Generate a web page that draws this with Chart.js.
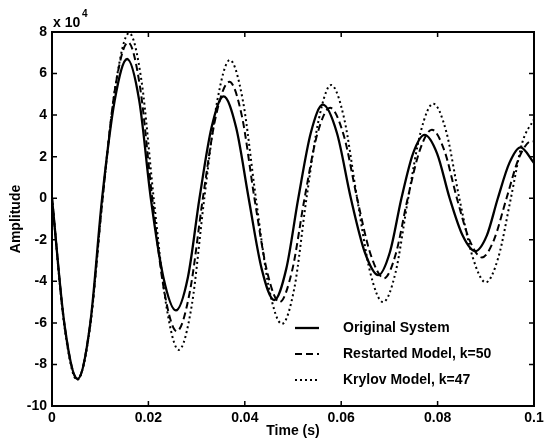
<!DOCTYPE html>
<html>
<head>
<meta charset="utf-8">
<script src="https://cdn.jsdelivr.net/npm/chart.js@4.4.1/dist/chart.umd.min.js"></script>
<style>
  html, body { margin: 0; padding: 0; background: #fff; }
  #wrap { width: 548px; height: 443px; position: relative; }
</style>
</head>
<body>
<div id="wrap"><canvas id="ampChart"></canvas></div>
<script>
// amplitudes are in units of 10^4, time in seconds
const origTime = [0, .0026, .0053, .0079, .0104, .0130, .0156, .0181, .0205, .0231, .0257, .0282, .0306, .0331, .0356, .0382, .0408, .0435, .0461, .0486, .0511, .0537, .0562, .0591, .0620, .0649, .0677, .0701, .0725, .0749, .0773, .0799, .0825, .0852, .0878, .0902, .0925, .0949, .0972, .1]
const origAmp = [0, -6.1, -8.7, -6.1, 0, 4.7, 6.7, 4.7, 0, -3.8, -5.4, -3.8, 0, 3.4, 4.9, 3.4, 0, -3.4, -4.9, -3.4, 0, 3.15, 4.5, 3.15, 0, -2.6, -3.7, -2.6, 0, 2.15, 3.05, 2.15, 0, -1.8, -2.55, -1.8, 0, 1.7, 2.45, 1.7]

const restTime = [0, .0026, .0053, .0079, .0105, .0131, .0158, .0183, .0208, .0233, .0259, .0286, .0313, .0340, .0368, .0394, .0420, .0446, .0472, .0498, .0524, .0550, .0577, .0605, .0633, .0661, .0689, .0713, .0738, .0763, .0788, .0814, .0840, .0866, .0892, .0917, .0943, .0969, .0995, .1]
const restAmp = [0, -6.1, -8.7, -6.1, 0, 5.3, 7.5, 5.3, 0, -4.5, -6.4, -4.5, 0, 3.95, 5.6, 3.95, 0, -3.5, -5.0, -3.5, 0, 3.05, 4.35, 3.05, 0, -2.7, -3.85, -2.7, 0, 2.3, 3.3, 2.3, 0, -2.0, -2.85, -2.0, 0, 1.95, 2.75, 2.74]

const krylovTime = [0, .0026, .0052, .0079, .0105, .0133, .0160, .0186, .0211, .0237, .0263, .0290, .0316, .0343, .0369, .0396, .0423, .0450, .0477, .0503, .0528, .0554, .0579, .0606, .0633, .0660, .0687, .0713, .0739, .0765, .0791, .0818, .0845, .0873, .0900, .0926, .0952, .0976, .1]
const krylovAmp = [0, -6.2, -8.75, -6.2, 0, 5.6, 7.95, 5.6, 0, -5.15, -7.3, -5.15, 0, 4.7, 6.65, 4.7, 0, -4.3, -6.05, -4.3, 0, 3.85, 5.45, 3.85, 0, -3.55, -5.0, -3.55, 0, 3.2, 4.55, 3.2, 0, -2.85, -4.05, -2.85, 0, 2.7, 3.8]

const seriesLabels = ["Original System", "Restarted Model, k=50", "Krylov Model, k=47"]
const xTicks = [0, 0.02, 0.04, 0.06, 0.08, 0.1]
const yTicks = [-10, -8, -6, -4, -2, 0, 2, 4, 6, 8]

function pairs(xs, ys) {
  return xs.map((x, i) => ({ x: x, y: ys[i] }))
}

const FONT = "'Liberation Sans', Arial, sans-serif"

// box, inward ticks, exponent and legend drawn on top
const matlabFrame = {
  id: "matlabFrame",
  afterDraw(chart) {
    const ctx = chart.ctx
    const a = chart.chartArea
    const xs = chart.scales.x
    const ys = chart.scales.y
    ctx.save()
    ctx.strokeStyle = "#000"
    ctx.lineWidth = 2
    ctx.strokeRect(a.left, a.top, a.right - a.left, a.bottom - a.top)

    ctx.lineWidth = 1.5
    ctx.beginPath()
    xTicks.forEach((t) => {
      const px = xs.getPixelForValue(t)
      ctx.moveTo(px, a.bottom); ctx.lineTo(px, a.bottom - 5)
      ctx.moveTo(px, a.top); ctx.lineTo(px, a.top + 5)
    })
    yTicks.forEach((t) => {
      const py = ys.getPixelForValue(t)
      ctx.moveTo(a.left, py); ctx.lineTo(a.left + 5, py)
      ctx.moveTo(a.right, py); ctx.lineTo(a.right - 5, py)
    })
    ctx.stroke()

    // x 10^4
    ctx.fillStyle = "#000"
    ctx.textBaseline = "alphabetic"
    ctx.textAlign = "left"
    ctx.font = "bold 14px " + FONT
    ctx.fillText("x 10", a.left + 1, 27)
    ctx.font = "bold 10px " + FONT
    ctx.fillText("4", a.left + 30, 17)

    // legend
    const rows = [328, 354, 380]
    chart.data.datasets.forEach((ds, i) => {
      ctx.beginPath()
      ctx.lineWidth = ds.borderWidth
      ctx.setLineDash(ds.borderDash || [])
      ctx.moveTo(295, rows[i]); ctx.lineTo(319, rows[i])
      ctx.stroke()
      ctx.setLineDash([])
      ctx.font = "bold 14px " + FONT
      ctx.textBaseline = "middle"
      ctx.fillText(ds.label, 343, rows[i])
    })
    ctx.restore()
  },
}

const ctx = document.getElementById("ampChart").getContext("2d")
const ampChart = new Chart(ctx, {
  type: "line",
  data: {
    datasets: [
      {
        label: seriesLabels[0],
        data: pairs(origTime, origAmp),
        borderColor: "#000",
        borderWidth: 2.3,
      },
      {
        label: seriesLabels[1],
        data: pairs(restTime, restAmp),
        borderColor: "#000",
        borderWidth: 2,
        borderDash: [7, 4],
      },
      {
        label: seriesLabels[2],
        data: pairs(krylovTime, krylovAmp),
        borderColor: "#000",
        borderWidth: 2,
        borderDash: [2, 3],
      },
    ],
  },
  options: {
    responsive: true,
    maintainAspectRatio: false,
    animation: false,
    parsing: false,
    elements: {
      point: { radius: 0 },
      line: { cubicInterpolationMode: "monotone", fill: false },
    },
    layout: {
      padding: { left: 0, right: 14, top: 32, bottom: 0 },
    },
    plugins: {
      legend: { display: false },
      tooltip: { enabled: false },
    },
    scales: {
      x: {
        type: "linear",
        min: 0,
        max: 0.1,
        afterBuildTicks: (scale) => {
          scale.ticks = xTicks.map((v) => ({ value: v }))
        },
        afterFit: (scale) => {
          scale.height = 37
        },
        grid: { display: false, drawTicks: false },
        border: { display: false },
        ticks: {
          padding: 4,
          color: "#000",
          maxRotation: 0,
          font: { family: FONT, size: 14, weight: "bold" },
          callback: (v) => String(Number(v.toFixed(2))),
        },
        title: {
          display: true,
          text: "Time (s)",
          color: "#000",
          padding: { top: 0, bottom: 3 },
          font: { family: FONT, size: 14, weight: "bold" },
        },
      },
      y: {
        min: -10,
        max: 8,
        afterBuildTicks: (scale) => {
          scale.ticks = yTicks.map((v) => ({ value: v }))
        },
        afterFit: (scale) => {
          scale.width = 52
        },
        grid: { display: false, drawTicks: false },
        border: { display: false },
        ticks: {
          padding: 5,
          color: "#000",
          font: { family: FONT, size: 14, weight: "bold" },
        },
        title: {
          display: true,
          text: "Amplitude",
          color: "#000",
          padding: { top: 8, bottom: 0 },
          font: { family: FONT, size: 14, weight: "bold" },
        },
      },
    },
  },
  plugins: [matlabFrame],
})
</script>
</body>
</html>
